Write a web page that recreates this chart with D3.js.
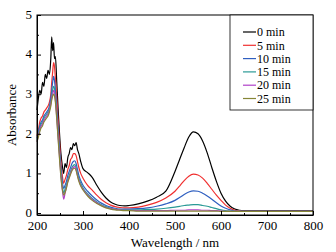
<!DOCTYPE html>
<html>
<head>
<meta charset="utf-8">
<script src="https://cdn.jsdelivr.net/npm/d3@7"></script>
<style>
  body { margin: 0; background: #fff; }
</style>
</head>
<body>
<div id="chart"></div>
<script>
const wavelengths = [200,203,206,209,212,215,218,221,224,227,230,232,234,236,238,240,243,246,249,252,255,258,261,264,267,270,273,276,279,282,285,288,291,295,300,310,320,330,340,350,360,370,380,390,400,420,440,460,480,500,510,520,530,540,550,560,570,580,590,600,610,620,630,640,650,660,700,750,800];

const min0 = [2.6,2.9,3.1,3.0,3.3,3.2,3.5,3.4,3.6,3.5,3.9,4.45,4.1,4.3,3.9,3.95,3.3,2.6,2.0,1.5,1.2,1.0,1.25,1.15,1.4,1.5,1.65,1.6,1.75,1.7,1.78,1.6,1.5,1.3,1.12,1.02,0.9,0.7,0.52,0.38,0.28,0.22,0.19,0.18,0.19,0.23,0.3,0.4,0.55,1.05,1.35,1.65,1.92,2.05,2.0,1.82,1.52,1.15,0.8,0.5,0.3,0.17,0.1,0.07,0.06,0.06,0.06,0.06,0.06];
const min5 = [1.95,2.1,2.3,2.4,2.45,2.55,2.6,2.65,2.7,2.8,3.0,3.3,3.55,3.8,3.7,3.4,2.9,2.3,1.8,1.3,0.95,0.75,0.85,0.95,1.1,1.2,1.35,1.4,1.5,1.5,1.45,1.3,1.15,1.0,0.88,0.7,0.58,0.45,0.34,0.26,0.2,0.16,0.14,0.13,0.13,0.15,0.2,0.27,0.38,0.55,0.68,0.82,0.93,0.98,0.96,0.88,0.75,0.6,0.45,0.32,0.2,0.12,0.07,0.05,0.04,0.04,0.04,0.04,0.04];
const min10 = [1.9,2.05,2.2,2.3,2.35,2.45,2.5,2.55,2.6,2.7,2.9,3.1,3.3,3.45,3.35,3.1,2.6,2.1,1.6,1.15,0.8,0.62,0.7,0.8,0.95,1.05,1.15,1.25,1.3,1.32,1.25,1.1,0.95,0.82,0.7,0.55,0.43,0.33,0.25,0.19,0.15,0.12,0.1,0.1,0.1,0.11,0.13,0.17,0.23,0.32,0.39,0.47,0.53,0.56,0.55,0.5,0.43,0.35,0.26,0.18,0.12,0.08,0.05,0.04,0.04,0.04,0.04,0.04,0.04];
const min15 = [1.85,2.0,2.15,2.25,2.3,2.4,2.45,2.5,2.55,2.65,2.8,2.95,3.1,3.2,3.15,2.95,2.5,2.0,1.5,1.05,0.7,0.5,0.6,0.72,0.85,0.95,1.05,1.15,1.2,1.22,1.15,1.0,0.88,0.75,0.63,0.48,0.37,0.28,0.21,0.16,0.12,0.1,0.09,0.08,0.08,0.08,0.09,0.1,0.12,0.15,0.17,0.19,0.2,0.21,0.21,0.19,0.17,0.14,0.11,0.08,0.06,0.05,0.04,0.04,0.04,0.04,0.04,0.04,0.04];
const min20 = [1.8,1.95,2.1,2.2,2.25,2.35,2.4,2.45,2.5,2.6,2.75,2.9,3.0,3.1,3.05,2.85,2.4,1.9,1.4,0.95,0.6,0.35,0.5,0.65,0.8,0.9,1.0,1.1,1.15,1.17,1.1,0.95,0.83,0.7,0.6,0.45,0.34,0.26,0.19,0.14,0.11,0.09,0.08,0.07,0.07,0.06,0.06,0.06,0.06,0.07,0.07,0.07,0.08,0.08,0.08,0.07,0.07,0.06,0.06,0.05,0.04,0.04,0.04,0.04,0.04,0.04,0.04,0.04,0.04];
const min25 = [1.8,1.92,2.05,2.15,2.2,2.3,2.35,2.4,2.45,2.55,2.7,2.85,2.95,3.0,2.95,2.8,2.35,1.85,1.35,0.9,0.6,0.45,0.52,0.63,0.78,0.88,0.98,1.07,1.12,1.13,1.07,0.93,0.8,0.68,0.58,0.43,0.32,0.24,0.18,0.13,0.1,0.08,0.07,0.06,0.06,0.05,0.05,0.05,0.05,0.05,0.05,0.05,0.05,0.05,0.05,0.05,0.05,0.05,0.05,0.04,0.04,0.04,0.04,0.04,0.04,0.04,0.04,0.04,0.04];

const seriesNames = ["0 min", "5 min", "10 min", "15 min", "20 min", "25 min"];
const seriesValues = [min0, min5, min10, min15, min20, min25];
const seriesColors = ["#000000", "#f03030", "#2f5fc0", "#2a9a96", "#b040c8", "#868636"];
const xTicks = [200, 300, 400, 500, 600, 700, 800];
const yTicks = [0, 1, 2, 3, 4, 5];

const serif = "Liberation Serif, DejaVu Serif, serif";
const width = 336, height = 252;
const margin = { top: 15, right: 23, bottom: 37, left: 37 };
const innerW = width - margin.left - margin.right;
const innerH = height - margin.top - margin.bottom;

const svg = d3.select("#chart").append("svg")
    .attr("width", width)
    .attr("height", height)
    .style("font-family", serif);

const g = svg.append("g")
    .attr("transform", `translate(${margin.left},${margin.top})`);

const x = d3.scaleLinear().domain([200, 800]).range([0, innerW]);
const y = d3.scaleLinear().domain([-0.05, 5]).range([innerH, 0]);

// curves
const line = d3.line()
    .x(d => x(d[0]))
    .y(d => y(d[1]))
    .curve(d3.curveMonotoneX);

seriesValues.forEach((vals, i) => {
    g.append("path")
        .datum(wavelengths.map((w, j) => [w, vals[j]]))
        .attr("fill", "none")
        .attr("stroke", seriesColors[i])
        .attr("stroke-width", 1.2)
        .attr("stroke-linejoin", "round")
        .attr("d", line);
});

// axes, ticks pointing inward
const xAxis = g.append("g")
    .attr("transform", `translate(0,${innerH})`)
    .call(d3.axisBottom(x).tickValues(xTicks).tickFormat(d3.format("d"))
        .tickSizeInner(-4).tickSizeOuter(0).tickPadding(6));
g.append("g")
    .attr("transform", `translate(0,${innerH})`)
    .call(d3.axisBottom(x).tickValues(d3.range(250, 800, 100)).tickSize(-2).tickFormat(""))
    .select(".domain").remove();

const yAxis = g.append("g")
    .call(d3.axisLeft(y).tickValues(yTicks).tickFormat(d3.format("d"))
        .tickSizeInner(-4).tickSizeOuter(0).tickPadding(5));
g.append("g")
    .call(d3.axisLeft(y).tickValues([0.5, 1.5, 2.5, 3.5, 4.5]).tickSize(-2).tickFormat(""))
    .select(".domain").remove();

svg.selectAll("g").attr("font-family", null);
svg.selectAll(".tick line").attr("stroke", "#000");
svg.selectAll(".tick text")
    .style("font-family", serif)
    .style("font-size", "13px");
xAxis.selectAll(".tick text").attr("dy", "0.71em");
yAxis.selectAll(".tick text").attr("dy", "0.25em");

// frame
g.append("rect")
    .attr("width", innerW)
    .attr("height", innerH)
    .attr("fill", "none")
    .attr("stroke", "#000")
    .attr("stroke-width", 1);

// legend
const legendLeft = 193, legendBottom = 95;
g.append("rect")
    .attr("x", legendLeft)
    .attr("y", 0)
    .attr("width", innerW - legendLeft)
    .attr("height", legendBottom)
    .attr("fill", "#fff")
    .attr("stroke", "#000")
    .attr("stroke-width", 0.8);

const legend = g.selectAll(".legend-item")
    .data(seriesNames)
    .enter().append("g")
    .attr("class", "legend-item")
    .attr("transform", (d, i) => `translate(206,${17 + i * 13.3})`);
legend.append("line")
    .attr("x1", 0).attr("x2", 13)
    .attr("stroke", (d, i) => seriesColors[i])
    .attr("stroke-width", 1.2);
legend.append("text")
    .attr("x", 14)
    .attr("dy", "0.35em")
    .style("font-family", serif)
    .style("font-size", "12px")
    .text(d => d);

// axis titles
svg.append("text")
    .attr("x", margin.left + innerW / 2)
    .attr("y", 247)
    .attr("text-anchor", "middle")
    .style("font-family", serif)
    .style("font-size", "13px")
    .text("Wavelength / nm");

svg.append("text")
    .attr("transform", `translate(16,${margin.top + innerH / 2}) rotate(-90)`)
    .attr("text-anchor", "middle")
    .style("font-family", serif)
    .style("font-size", "13px")
    .text("Absorbance");
</script>
</body>
</html>
